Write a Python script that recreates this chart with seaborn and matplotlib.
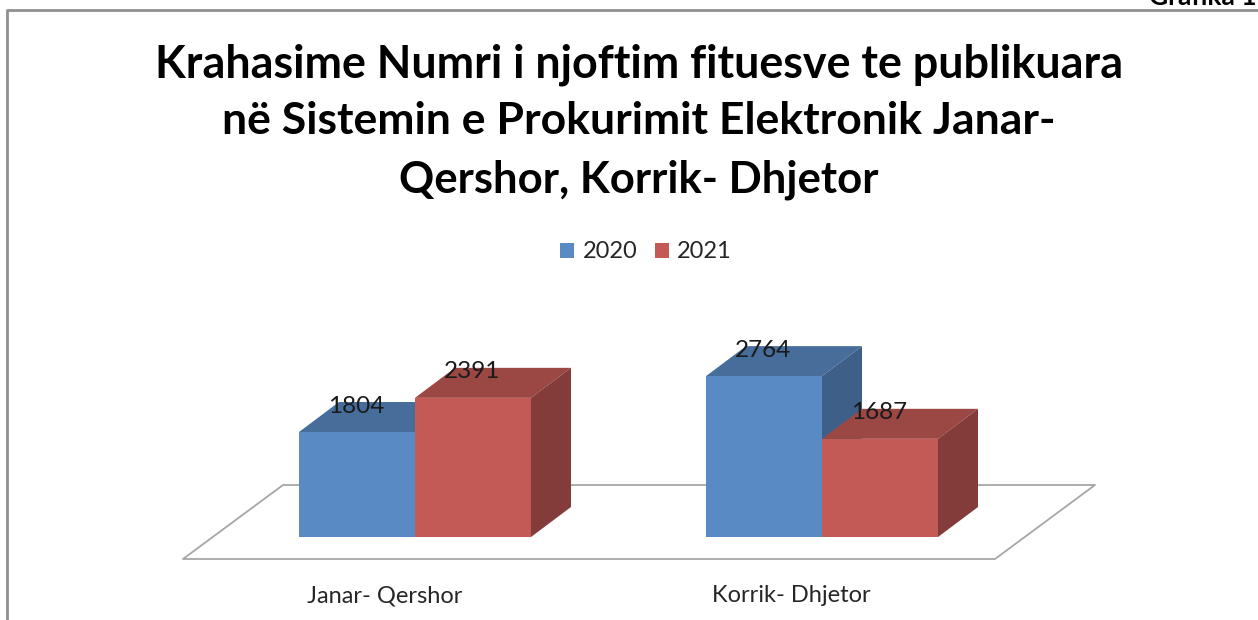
import matplotlib
matplotlib.use("Agg")
import matplotlib.pyplot as plt
import pandas as pd
import seaborn as sns
from matplotlib.lines import Line2D
from matplotlib.patches import Polygon, Rectangle

sns.set_theme(style="white")
plt.rcParams['font.family'] = ['Lato', 'DejaVu Sans']

# data
periods = ['Janar- Qershor', 'Korrik- Dhjetor']
years = ['2020', '2021']
values_2020 = [1804, 2764]
values_2021 = [2391, 1687]

title_lines = [
    'Krahasime Numri i njoftim fituesve te publikuara',
    'në Sistemin e Prokurimit Elektronik Janar-',
    'Qershor, Korrik- Dhjetor',
]

front_colors = ['#5a8ac4', '#c45a56']
top_colors = ['#476d9b', '#9b4744']
side_colors = ['#3e6088', '#833c39']

W, H = 1258, 620
df = pd.DataFrame({
    'period': periods * 2,
    'year': [years[0]] * 2 + [years[1]] * 2,
    'value': values_2020 + values_2021,
})

fig = plt.figure(figsize=(W / 100, H / 100), dpi=100, facecolor='white')


def px(x, y):
    # reference pixels to figure fraction
    return x / W, 1 - y / H


# page frame and caption, the caption is cut by the page edge in the reference
fig.add_artist(Line2D([7 / W, 7 / W, 1], [0, 1 - 10 / H, 1 - 10 / H],
                      transform=fig.transFigure, color='#8f8f8f', lw=2))
fig.text(*px(1149, 5), 'Grafika 1', ha='left', va='baseline', fontsize=19,
         fontweight='bold', color='black')

# title, one line at a time so the breaks stay in place
for line, y, size in zip(title_lines, [77, 134, 193], [32.3, 32, 31.4]):
    fig.text(*px(639, y), line, ha='center', va='baseline', fontsize=size,
             fontweight='bold', color='black')

# axes sits so that the two categories fall on the reference pixels
ax = fig.add_axes([211.5 / W, (H - 537) / H, 814 / W, 250 / H])
sns.barplot(data=df, x='period', y='value', hue='year', palette=front_colors,
            width=0.57, saturation=1, gap=0, dodge=True, legend=False, ax=ax,
            zorder=3, linewidth=0)
ax.set_xlim(-0.5, 1.5)
ax.set_ylim(0, 250 / 0.0582)
ax.axis('off')

to_px = ax.transData
depth = (40, 30)  # 3D offset in pixels


def shifted(x, y, dx=0, dy=0):
    # data point moved by a pixel offset, back in data coordinates
    p = to_px.transform((x, y))
    return to_px.inverted().transform((p[0] + dx, p[1] + dy))


# floor of the 3D chart
bars = [b for b in ax.patches if b.get_height() > 0]
x0 = min(b.get_x() for b in bars)
x1 = max(b.get_x() + b.get_width() for b in bars)
floor = [shifted(x0, 0, -116, -22), shifted(x1, 0, 57, -22),
         shifted(x1, 0, 157, 52), shifted(x0, 0, -16, 52)]
ax.add_patch(Polygon(floor, closed=True, facecolor='white', edgecolor='#a6a6a6',
                     lw=1.3, zorder=1, clip_on=False, joinstyle='round'))

# 3D faces from the bars; right-hand bar of each pair is drawn last
n = len(periods)
order = [0, n, 1, n + 1]
for z, i in enumerate(order):
    bar = bars[i]
    c = 0 if i < n else 1
    xl, xr, h = bar.get_x(), bar.get_x() + bar.get_width(), bar.get_height()
    top = [(xl, h), (xr, h), shifted(xr, h, *depth), shifted(xl, h, *depth)]
    side = [(xr, 0), (xr, h), shifted(xr, h, *depth), shifted(xr, 0, *depth)]
    ax.add_patch(Polygon(top, closed=True, facecolor=top_colors[c], lw=0,
                         zorder=2 + z, clip_on=False))
    ax.add_patch(Polygon(side, closed=True, facecolor=side_colors[c], lw=0,
                         zorder=2 + z, clip_on=False))
    bar.set_zorder(2 + z + 0.5)
    ax.annotate(str(int(h)), (xl + bar.get_width() / 2, h), xytext=(-1, 26),
                textcoords='offset pixels', ha='center', va='center',
                fontsize=17.5, color='#1a1a1a', zorder=20, annotation_clip=False)

# category labels
for i, label in enumerate(periods):
    ax.annotate(label, (i, 0), xytext=(-30.5, -65), textcoords='offset pixels',
                ha='center', va='baseline', fontsize=17, color='#262626',
                annotation_clip=False)

# legend
for (sx, tx), year, color in zip([(560, 583), (655, 677)], years, front_colors):
    fig.add_artist(Rectangle(px(sx, 258), 14 / W, 15 / H, transform=fig.transFigure,
                             facecolor=color, edgecolor='none'))
    fig.text(*px(tx, 258), year, ha='left', va='baseline', fontsize=17,
             color='#262626')

fig.savefig('out.png', dpi=100)
